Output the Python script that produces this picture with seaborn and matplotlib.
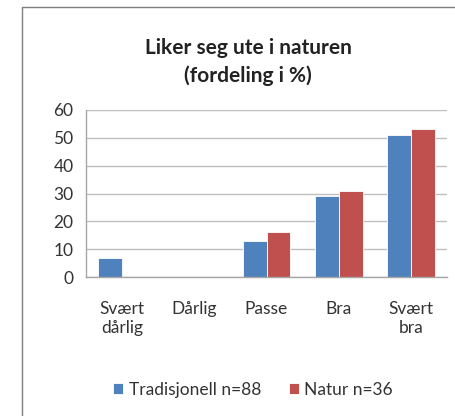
import pandas as pd
import matplotlib
matplotlib.use("Agg")
import matplotlib.pyplot as plt
from matplotlib.lines import Line2D
import seaborn as sns

# data
categories = ["Svært\ndårlig", "Dårlig", "Passe", "Bra", "Svært\nbra"]
tradisjonell = [7, 0, 13, 29, 51]
natur = [0, 0, 16, 31, 53]
series_names = ["Tradisjonell n=88", "Natur n=36"]
colors = ["#4F81BD", "#C0504D"]

df = pd.DataFrame({
    "kategori": categories * 2,
    "verdi": tradisjonell + natur,
    "gruppe": [series_names[0]] * len(categories) + [series_names[1]] * len(categories),
})

sns.set_theme(style="white")
plt.rcParams["font.family"] = ["Lato", "DejaVu Sans"]

fig = plt.figure(figsize=(4.55, 4.16), dpi=100)
ax = fig.add_axes([86 / 455, 1 - 277 / 416, 361 / 455, 167 / 416])

sns.barplot(data=df, x="kategori", y="verdi", hue="gruppe", palette=colors,
            saturation=1, width=0.66, order=categories, hue_order=series_names,
            ax=ax, edgecolor="white", linewidth=0.6, legend=True)

ax.set_ylim(0, 60)
ax.set_yticks(range(0, 61, 10))
ax.set_xlim(-0.5, len(categories) - 0.5)
ax.yaxis.grid(True, color="#BFBFBF", linewidth=1)
ax.set_axisbelow(True)
ax.set_xlabel("")
ax.set_ylabel("")
for side in ["top", "right"]:
    ax.spines[side].set_visible(False)
for side in ["left", "bottom"]:
    ax.spines[side].set_color("#A6A6A6")
    ax.spines[side].set_linewidth(1)
ax.tick_params(axis="y", labelsize=12.5, colors="#333333", pad=9, length=0)
ax.tick_params(axis="x", labelsize=12.5, colors="#333333", pad=17, length=0)
for lbl in ax.get_xticklabels():
    lbl.set_multialignment("center")
    lbl.set_verticalalignment("top")
    lbl.set_linespacing(1.25)

handles, labels = ax.get_legend_handles_labels()
ax.legend_.remove()
fig.legend(handles, labels, loc="center", bbox_to_anchor=(253 / 455, 1 - 390 / 416),
           ncol=2, frameon=False, fontsize=12.5, handlelength=0.6, handleheight=0.6,
           handletextpad=0.3, columnspacing=1.6, labelcolor="#333333")

fig.text(248 / 455, 1 - 62 / 416, "Liker seg ute i naturen\n(fordeling i %)",
         ha="center", va="center", fontsize=15, fontweight="bold",
         color="#222222", linespacing=1.45)

# outer chart border
fig.add_artist(Line2D([22 / 455, 22 / 455], [0, 1 - 7 / 416], transform=fig.transFigure,
                      color="#7F7F7F", linewidth=1))
fig.add_artist(Line2D([22 / 455, 1], [1 - 7 / 416, 1 - 7 / 416], transform=fig.transFigure,
                      color="#7F7F7F", linewidth=1))

fig.savefig("out.png", dpi=100, facecolor="white")
